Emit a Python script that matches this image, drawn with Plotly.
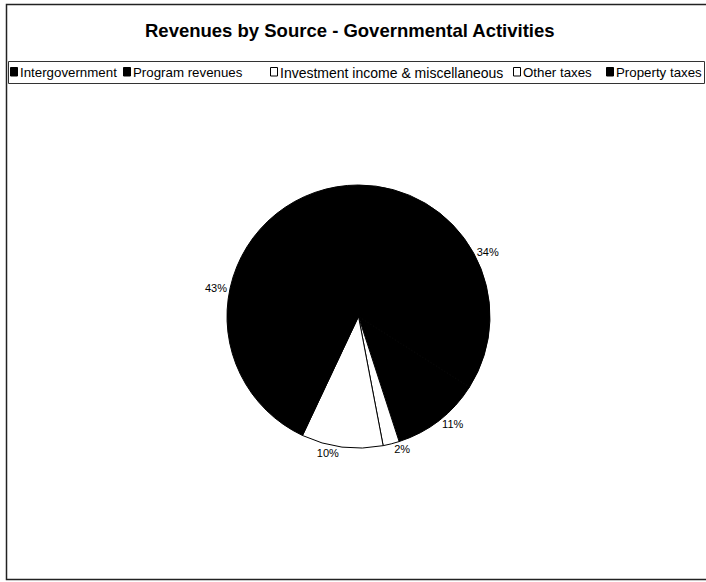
import plotly.graph_objects as go

# ---- data ----
labels = ["Intergovernment", "Program revenues", "Investment income & miscellaneous",
          "Other taxes", "Property taxes"]
values = [34, 11, 2, 10, 43]
colors = ["#000000", "#000000", "#ffffff", "#ffffff", "#000000"]
title_text = "Revenues by Source - Governmental Activities"

W, H = 706, 582

def px(x):
    return x / W

def py(y):
    return 1 - y / H

fig = go.Figure()
fig.add_trace(go.Pie(
    labels=labels,
    values=values,
    sort=False,
    direction="clockwise",
    rotation=0,
    marker=dict(colors=colors, line=dict(color="#000000", width=1)),
    textinfo="percent",
    texttemplate="%{percent:.0%}",
    textposition="outside",
    outsidetextfont=dict(family="Arial, Liberation Sans, sans-serif", size=11, color="#000000"),
    domain=dict(x=[px(227), px(490)], y=[py(448), py(185)]),
    showlegend=False,
    hoverinfo="label+percent",
))

shapes = []
annotations = []

# outer chart frame (no visible right edge)
shapes.append(dict(type="rect", xref="paper", yref="paper",
                   x0=px(6.5), x1=px(715), y0=py(579.5), y1=py(4.5),
                   line=dict(color="#222222", width=1.5), fillcolor="rgba(0,0,0,0)"))
# legend box
shapes.append(dict(type="rect", xref="paper", yref="paper",
                   x0=px(8.5), x1=px(704.5), y0=py(83.5), y1=py(61.5),
                   line=dict(color="#333333", width=1), fillcolor="rgba(0,0,0,0)"))

# custom legend entries built from the data lists
sq_x = [10, 123, 270, 513, 606]
txt_size = [13.3, 13.3, 14.0, 13.3, 13.3]
for i, (lab, col) in enumerate(zip(labels, colors)):
    x0 = sq_x[i]
    shapes.append(dict(type="rect", xref="paper", yref="paper",
                       x0=px(x0 + 0.5), x1=px(x0 + 7.5), y0=py(76), y1=py(67.5),
                       line=dict(color="#000000", width=1), fillcolor=col))
    annotations.append(dict(text=lab, xref="paper", yref="paper",
                            x=px(x0 + 7.5), y=py(72.5), xanchor="left", yanchor="middle",
                            showarrow=False,
                            font=dict(family="Arial, Liberation Sans, sans-serif",
                                      size=txt_size[i], color="#000000")))

# title
annotations.append(dict(text="<b>" + title_text + "</b>", xref="paper", yref="paper",
                        x=px(350), y=py(30), xanchor="center", yanchor="middle",
                        showarrow=False,
                        font=dict(family="Arial, Liberation Sans, sans-serif",
                                  size=18.5, color="#000000")))

fig.update_layout(
    width=W, height=H,
    margin=dict(l=0, r=0, t=0, b=0),
    paper_bgcolor="#ffffff",
    plot_bgcolor="#ffffff",
    shapes=shapes,
    annotations=annotations,
)

fig.write_html("out.html")
